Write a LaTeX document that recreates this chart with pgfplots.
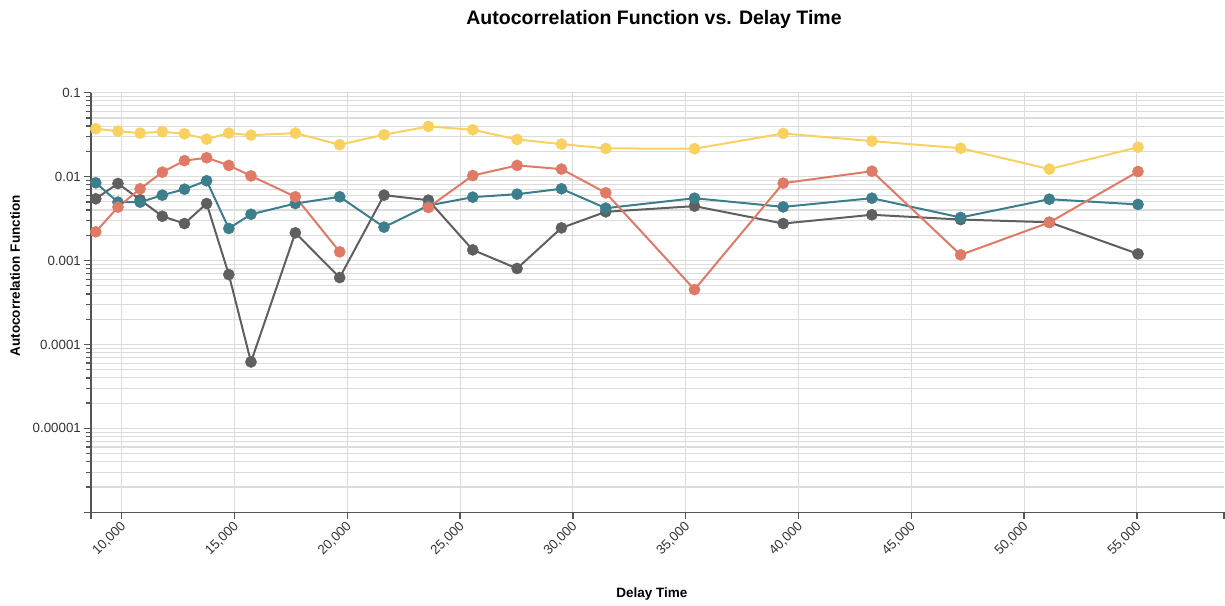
\documentclass[border=0pt]{standalone}
\usepackage{pgfplots}
\pgfplotsset{compat=1.18}
\usepackage{pgfplotstable}
\usepackage{fontspec}
\setmainfont{Liberation Sans}
\definecolor{cyel}{HTML}{F9D160}
\definecolor{cred}{HTML}{E07A66}
\definecolor{cteal}{HTML}{3C7E8B}
\definecolor{cgray}{HTML}{5F5F5F}
\definecolor{gridc}{HTML}{DCDCDC}
\definecolor{axc}{HTML}{555555}
\definecolor{tickc}{HTML}{333333}

\pgfplotstableread{
x y r t g
8850 0.0372 0.00220 0.00845 0.00544
9833 0.0348 0.00433 0.00496 0.00828
10816 0.0330 0.00716 0.00496 0.0053
11799 0.0343 0.0113 0.00601 0.00337
12782 0.0324 0.0155 0.00708 0.00276
13765 0.0280 0.0168 0.00893 0.00478
14748 0.0330 0.0136 0.00241 0.000681
15731 0.0312 0.0102 0.00356 0.0000619
17697 0.0330 0.00575 0.00478 0.00214
19663 0.0240 0.00127 0.00575 0.000627
21629 0.0316 nan 0.00250 0.00601
23595 0.0396 0.00429 0.00453 0.00524
25561 0.0362 0.0103 0.00569 0.00134
27527 0.0277 0.0136 0.00618 0.000804
29493 0.0244 0.0123 0.00716 0.00245
31459 0.0217 0.00641 0.00421 0.00381
35391 0.0215 0.000451 0.00553 0.00445
39323 0.0327 0.00836 0.00436 0.00276
43255 0.0265 0.0116 0.00553 0.00351
47187 0.0218 0.00117 0.00326 0.00308
51119 0.0123 0.00284 0.00538 0.00286
55051 0.0224 0.0115 0.00466 0.00120
}\datatable

\begin{document}
\begin{tikzpicture}
\useasboundingbox (0,0) rectangle (1225pt,605pt);
\begin{axis}[
  at={(91pt,92.7pt)}, anchor=south west,
  scale only axis, width=1133pt, height=419.6pt,
  xmin=8639, xmax=58865,
  ymode=log, ymin=1e-6, ymax=0.1,
  scaled x ticks=false,
  axis x line*=bottom, axis y line*=left,
  axis line style={-, draw=axc, line width=1.6pt},
  tick align=outside,
  major tick length=7pt, minor tick length=5pt,
  every tick/.style={draw=axc, line width=1.3pt},
  xtick={10000,15000,20000,25000,30000,35000,40000,45000,50000,55000},
  xticklabels={{10,000},{15,000},{20,000},{25,000},{30,000},{35,000},{40,000},{45,000},{50,000},{55,000}},
  extra x ticks={8639,58865},
  extra x tick labels={},
  extra x tick style={grid=none},
  ytick={1e-6,1e-5,1e-4,1e-3,1e-2,1e-1},
  yticklabels={,0.00001,0.0001,0.001,0.01,0.1},
  minor ytick={2e-6,3e-6,4e-6,5e-6,6e-6,7e-6,8e-6,9e-6,
               2e-5,3e-5,4e-5,5e-5,6e-5,7e-5,8e-5,9e-5,
               2e-4,3e-4,4e-4,5e-4,6e-4,7e-4,8e-4,9e-4,
               2e-3,3e-3,4e-3,5e-3,6e-3,7e-3,8e-3,9e-3,
               2e-2,3e-2,4e-2,5e-2,6e-2,7e-2,8e-2,9e-2},
  xmajorgrids=true, ymajorgrids=true, yminorgrids=true,
  major grid style={draw=gridc, line width=1.1pt},
  minor grid style={draw=gridc, line width=1.1pt},
  xticklabel style={rotate=45, anchor=east, font=\fontsize{13.3}{15}\selectfont, text=tickc, inner sep=1pt, xshift=-1pt, yshift=-5pt},
  yticklabel style={font=\fontsize{13.3}{15}\selectfont, text=tickc, inner sep=3pt},
  title={\bfseries Autocorrelation Function vs. Delay Time},
  title style={at={(axis description cs:0.4969,1.161)}, anchor=center, font=\fontsize{19.5}{22}\selectfont},
  xlabel={\bfseries Delay Time},
  xlabel style={at={(axis description cs:0.4951,-0.195)}, anchor=center, font=\fontsize{13.5}{15}\selectfont},
  ylabel={\bfseries Autocorrelation Function},
  ylabel style={at={(axis description cs:-0.0671,0.564)}, anchor=center, rotate=0, font=\fontsize{13.5}{15}\selectfont},
  unbounded coords=jump,
  clip=false,
]
\addplot[cgray, line width=2pt, mark=*, mark size=5.6pt, mark options={draw=cgray, fill=cgray, line width=0.4pt}] table[x=x, y=g] {\datatable};
\addplot[cteal, line width=2pt, mark=*, mark size=5.6pt, mark options={draw=cteal, fill=cteal, line width=0.4pt}] table[x=x, y=t] {\datatable};
\addplot[cred, line width=2pt, mark=*, mark size=5.6pt, mark options={draw=cred, fill=cred, line width=0.4pt}] table[x=x, y=r] {\datatable};
\addplot[cyel, line width=2pt, mark=*, mark size=5.6pt, mark options={draw=cyel, fill=cyel, line width=0.4pt}] table[x=x, y=y] {\datatable};
\end{axis}
\end{tikzpicture}
\end{document}
